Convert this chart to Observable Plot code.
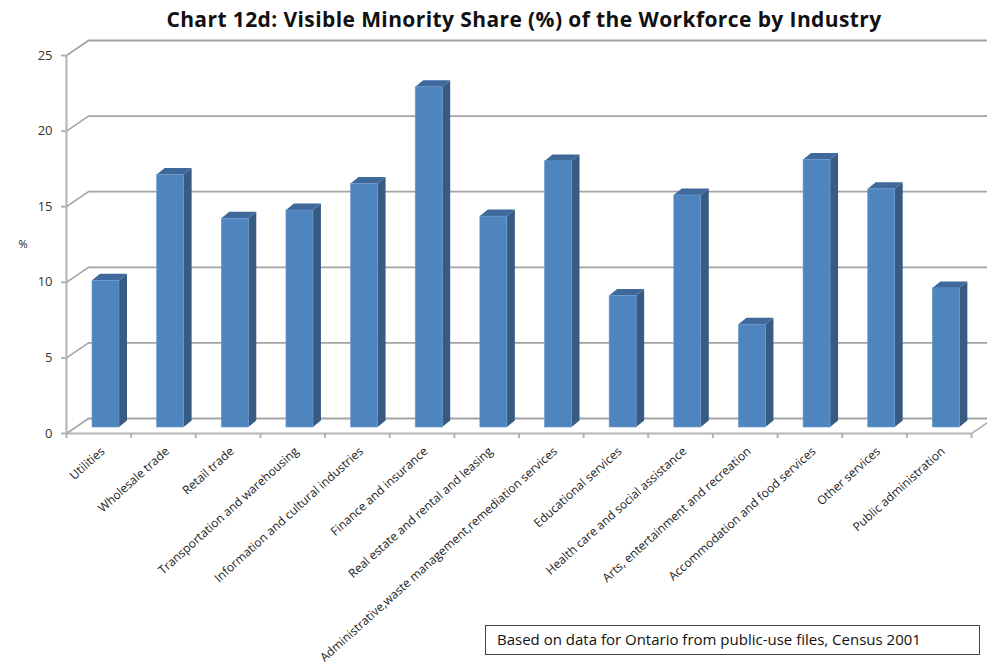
<!DOCTYPE html>
<html>
<head>
<meta charset="utf-8">
<script src="https://cdn.jsdelivr.net/npm/d3@7"></script>
<script src="https://cdn.jsdelivr.net/npm/@observablehq/plot@0.6"></script>
<style>
  html, body { margin: 0; padding: 0; background: #fff; }
  #wrap { position: relative; width: 987px; height: 666px; overflow: hidden; font-family: "Open Sans", sans-serif; }
  #title { box-sizing: border-box; height: 34px; padding-top: 4px; padding-left: 61px; line-height: 30px;
           font-size: 21px; letter-spacing: 0.4px; font-weight: bold; color: #111; text-align: center; white-space: nowrap; }
  #note { position: absolute; left: 485px; top: 625px; width: 495px; height: 30px; box-sizing: border-box;
          border: 1.5px solid #444; background: #fff; font-size: 15px; color: #111; line-height: 27px; padding-left: 11px; white-space: nowrap; }
  svg { display: block; }
</style>
</head>
<body>
<div id="wrap"></div>
<script>
// ---- data ----
const titleText = "Chart 12d: Visible Minority Share (%) of the Workforce by Industry";
const noteText = "Based on data for Ontario from public-use files, Census 2001";
const yLabel = "%";
const categories = [
  "Utilities",
  "Wholesale trade",
  "Retail trade",
  "Transportation and warehousing",
  "Information and cultural industries",
  "Finance and insurance",
  "Real estate and rental and leasing",
  "Administrative,waste management,remediation services",
  "Educational services",
  "Health care and social assistance",
  "Arts, entertainment and recreation",
  "Accommodation and food services",
  "Other services",
  "Public administration"
];
const values = [9.7, 16.7, 13.8, 14.35, 16.1, 22.5, 13.95, 17.6, 8.7, 15.35, 6.8, 17.7, 15.75, 9.2];
const yTicks = [0, 5, 10, 15, 20, 25];

// ---- layout (pixels) ----
const W = 987, H = 632;
const mL = 66, mR = 16, mT = 21, mB = 233;
const n = categories.length;
const pxX = (W - mL - mR) / n;         // px per x unit
const pxY = (H - mT - mB) / 25;        // px per y unit
const wallDX = 22 / pxX, wallDY = 15 / pxY;     // back wall offset
const barLeft = 26 / pxX, barW = 27 / pxX;      // front face within band
const barLift = 6 / pxY;                         // bar base above front floor edge
const depthDX = 8 / pxX, depthDY = 6.5 / pxY;   // bar depth
const xEnd = (987 - mL) / pxX + 0.5;

const wrap = document.getElementById("wrap");
const t = document.createElement("div");
t.id = "title"; t.textContent = titleText;
wrap.appendChild(t);

const bars = categories.map((c, i) => ({
  cat: c, i, v: values[i],
  x1: i + barLeft, x2: i + barLeft + barW,
  y1: barLift, y2: values[i] + barLift
}));
const sides = bars.flatMap(b => [
  {id: b.i, x: b.x2, y1: b.y1, y2: b.y2},
  {id: b.i, x: b.x2 + depthDX, y1: b.y1 + depthDY, y2: b.y2 + depthDY}
]);
const tops = bars.flatMap(b => [
  {id: b.i, y: b.y2, x1: b.x1, x2: b.x2},
  {id: b.i, y: b.y2 + depthDY, x1: b.x1 + depthDX, x2: b.x2 + depthDX}
]);
const bandEdges = d3.range(0, n + 1);

const gridColor = "#a3a3a3";
const axisColor = "#b3b3b3";

const chart = Plot.plot({
  width: W, height: H,
  marginLeft: mL, marginRight: mR, marginTop: mT, marginBottom: mB,
  x: {type: "linear", domain: [0, n], axis: null},
  y: {type: "linear", domain: [0, 25], axis: null},
  style: {fontFamily: "'Open Sans', sans-serif", background: "#fff", overflow: "hidden"},
  marks: [
    // back wall gridlines
    Plot.ruleY(yTicks, {y: d => d + wallDY, x1: wallDX, x2: xEnd, stroke: gridColor, strokeWidth: 1.8}),
    // left wall diagonals
    Plot.link(yTicks, {x1: 0, y1: d => d, x2: wallDX, y2: d => d + wallDY, stroke: gridColor, strokeWidth: 1.6}),
    // floor right edge
    Plot.link([0], {x1: n, y1: 0, x2: n + wallDX, y2: wallDY, stroke: axisColor, strokeWidth: 1.6}),
    // front axes
    Plot.ruleX([0], {y1: 0, y2: 25, stroke: axisColor, strokeWidth: 2}),
    Plot.ruleY([0], {x1: 0, x2: n, stroke: axisColor, strokeWidth: 2}),
    // y tick marks
    Plot.ruleY(yTicks, {x1: -5 / pxX, x2: 0, stroke: axisColor, strokeWidth: 2}),
    // x tick marks
    Plot.ruleX(bandEdges, {y1: 0, y2: -5 / pxY, stroke: axisColor, strokeWidth: 2}),
    // bars: side faces, top faces, front faces
    Plot.areaY(sides, {x: "x", y1: "y1", y2: "y2", z: "id", fill: "#385b84", curve: "linear"}),
    Plot.areaX(tops, {y: "y", x1: "x1", x2: "x2", z: "id", fill: "#3f689b", curve: "linear"}),
    Plot.rect(bars, {x1: "x1", x2: "x2", y1: "y1", y2: "y2", fill: "#4f85bf", stroke: "#6a9ad0", strokeWidth: 0.6}),
    // y tick labels
    Plot.text(yTicks, {x: 0, y: d => d, text: d => String(d), textAnchor: "end", dx: -14, fontSize: 13, fill: "#333"}),
    // y label
    Plot.text([yLabel], {frameAnchor: "left", text: d => d, dx: -48, fontSize: 11, fill: "#222"}),
    // category labels
    Plot.text(categories, {x: (d, i) => i + 0.5, y: 0, text: d => d, rotate: -42, textAnchor: "end",
      dx: 4, dy: 16, fontSize: 12, fill: "#222"})
  ]
});
wrap.appendChild(chart);

const note = document.createElement("div");
note.id = "note"; note.textContent = noteText;
wrap.appendChild(note);
</script>
</body>
</html>
